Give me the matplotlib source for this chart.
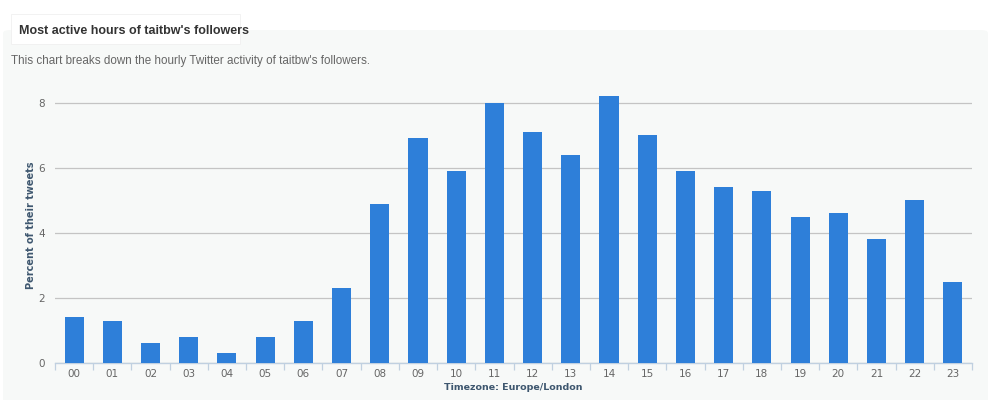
import matplotlib
matplotlib.use("Agg")
import matplotlib.pyplot as plt
from matplotlib.patches import FancyBboxPatch, Rectangle
import numpy as np

hours = ["00", "01", "02", "03", "04", "05", "06", "07", "08", "09", "10", "11",
         "12", "13", "14", "15", "16", "17", "18", "19", "20", "21", "22", "23"]
percent = [1.4, 1.3, 0.6, 0.8, 0.3, 0.8, 1.3, 2.3, 4.9, 6.9, 5.9, 8.0,
           7.1, 6.4, 8.2, 7.0, 5.9, 5.4, 5.3, 4.5, 4.6, 3.8, 5.0, 2.5]
yticks = [0, 2, 4, 6, 8]

plt.rcParams["font.family"] = ["DejaVu Sans"]
fig = plt.figure(figsize=(10, 4), dpi=100)
fig.patch.set_facecolor("white")

# light panel behind the chart
panel = FancyBboxPatch((0.003, -0.05), 0.985, 0.975, boxstyle="round,pad=0,rounding_size=0.008",
                       transform=fig.transFigure, facecolor="#f7f9f8", edgecolor="none", zorder=-2)
fig.patches.append(panel)
# white title tab
tab = Rectangle((0.011, 0.89), 0.229, 0.075, transform=fig.transFigure,
                facecolor="white", edgecolor="#f0f0f0", lw=0.6, zorder=-1)
fig.patches.append(tab)
fig.text(0.019, 0.922, "Most active hours of taitbw's followers", fontsize=9,
         fontweight="bold", color="#333333", va="center", family="Liberation Sans")
fig.text(0.011, 0.848, "This chart breaks down the hourly Twitter activity of taitbw's followers.",
         fontsize=8.4, color="#666666", va="center", family="Liberation Sans")

ax = fig.add_axes([0.055, 0.0925, 0.917, 0.69])
ax.set_facecolor("none")
x = np.arange(len(hours))
ax.bar(x, percent, width=0.5, color="#2e7fd9", zorder=3)

ax.set_xlim(-0.5, len(hours) - 0.5)
ax.set_ylim(0, 8.48)
ax.set_yticks(yticks)
ax.set_yticklabels([str(v) for v in yticks])
ax.grid(axis="y", color="#c4c4c4", lw=0.9, zorder=0)
ax.set_axisbelow(True)

ax.set_xticks(x)
ax.set_xticklabels(hours)
ax.set_xticks(np.arange(-0.5, len(hours), 1), minor=True)
ax.tick_params(axis="x", which="major", length=0, pad=4, labelsize=7.5, labelcolor="#666666")
ax.tick_params(axis="x", which="minor", length=5, color="#c0d0e0", width=0.9)
ax.tick_params(axis="y", length=0, pad=7, labelsize=7.5, labelcolor="#666666")

for s in ["top", "right", "left"]:
    ax.spines[s].set_visible(False)
ax.spines["bottom"].set_color("#c0d0e0")
ax.spines["bottom"].set_linewidth(1)

ax.set_xlabel("Timezone: Europe/London", fontsize=6.8, fontweight="bold",
              color="#3e576f", labelpad=3)
ax.set_ylabel("Percent of their tweets", fontsize=7, fontweight="bold",
              color="#3e576f", labelpad=2)

fig.savefig("out.png", dpi=100, facecolor="white")
